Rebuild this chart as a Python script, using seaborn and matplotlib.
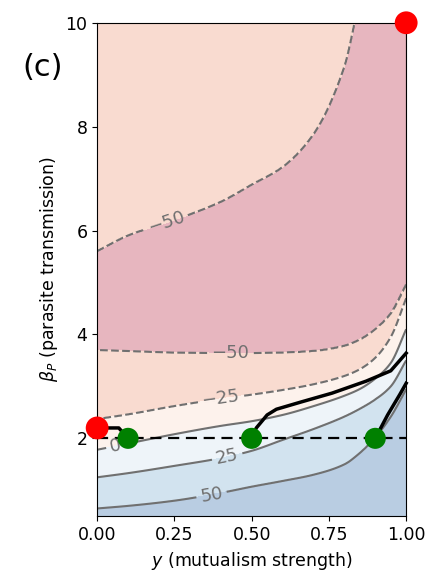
import numpy as np
import pandas as pd
import matplotlib
matplotlib.use("Agg")
import matplotlib.pyplot as plt
from matplotlib.colors import ListedColormap, BoundaryNorm
import seaborn as sns

# Mutualism strength knots at which each contour level was traced
y_knots = [0.0, 0.1, 0.25, 0.4, 0.5, 0.6, 0.7, 0.8, 0.85, 0.9, 0.95, 1.0]

# Parasite transmission (beta_P) of each contour level along y_knots
beta_p50 = [0.65, 0.70, 0.80, 0.95, 1.07, 1.18, 1.30, 1.50, 1.72, 2.02, 2.42, 2.95]
beta_p25 = [1.25, 1.33, 1.47, 1.62, 1.76, 1.97, 2.18, 2.42, 2.57, 2.75, 3.00, 3.50]
beta_0 = [1.78, 1.90, 2.08, 2.24, 2.33, 2.45, 2.62, 2.82, 2.95, 3.15, 3.45, 4.10]
beta_m25 = [2.37, 2.46, 2.62, 2.76, 2.84, 2.93, 3.04, 3.20, 3.33, 3.55, 3.95, 4.70]
beta_m50_low = [3.70, 3.68, 3.65, 3.64, 3.64, 3.65, 3.68, 3.78, 3.90, 4.10, 4.40, 4.95]
beta_m50_up = [5.60, 5.90, 6.20, 6.55, 6.88, 7.22, 7.85, 9.15, 10.4, 11.2, 12.0, 13.0]

levels = [-50, -25, 0, 25, 50]
fill_colors = ["#e7b6bf", "#f9dbd0", "#fdf2ec", "#eef4f9", "#d2e3ef", "#b9cde2"]

# Boundary curves of the coexistence regions
curve_a_y = [0.0, 0.07, 0.1]
curve_a_b = [2.2, 2.2, 2.0]
curve_b_y = [0.5, 0.515, 0.55, 0.58, 0.66, 0.76, 0.87, 0.95, 1.0]
curve_b_b = [2.0, 2.2, 2.45, 2.56, 2.7, 2.87, 3.1, 3.3, 3.64]
curve_c_y = [0.9, 0.94, 0.98, 1.0]
curve_c_b = [2.0, 2.45, 2.85, 3.06]
curve_d_y = [1.0, 1.0]
curve_d_b = [3.06, 10.0]

threshold_beta = 2.0
red_y = [0.0, 1.0]
red_b = [2.2, 10.0]
green_y = [0.1, 0.5, 0.9]
green_b = [2.0, 2.0, 2.0]


def pchip(x, xk, yk):
    """Shape-preserving piecewise cubic through (xk, yk)."""
    xk = np.asarray(xk, float)
    yk = np.asarray(yk, float)
    h = np.diff(xk)
    d = np.diff(yk) / h
    m = np.zeros_like(yk)
    for i in range(1, len(xk) - 1):
        if d[i - 1] * d[i] > 0:
            w1 = 2 * h[i] + h[i - 1]
            w2 = h[i] + 2 * h[i - 1]
            m[i] = (w1 + w2) / (w1 / d[i - 1] + w2 / d[i])
    m[0] = d[0]
    m[-1] = d[-1]
    x = np.atleast_1d(np.asarray(x, float))
    idx = np.clip(np.searchsorted(xk, x) - 1, 0, len(xk) - 2)
    t = (x - xk[idx]) / h[idx]
    h00 = 2 * t**3 - 3 * t**2 + 1
    h10 = t**3 - 2 * t**2 + t
    h01 = -2 * t**3 + 3 * t**2
    h11 = t**3 - t**2
    return (h00 * yk[idx] + h10 * h[idx] * m[idx]
            + h01 * yk[idx + 1] + h11 * h[idx] * m[idx + 1])


# Build the gridded field from the traced level curves
ys = np.linspace(0, 1, 401)
bs = np.linspace(0.5, 10, 800)
c50 = pchip(ys, y_knots, beta_p50)
c25 = pchip(ys, y_knots, beta_p25)
c0 = pchip(ys, y_knots, beta_0)
cm25 = pchip(ys, y_knots, beta_m25)
clo = pchip(ys, y_knots, beta_m50_low)
cup = pchip(ys, y_knots, beta_m50_up)
Z = np.empty((bs.size, ys.size))
for j in range(ys.size):
    xp = [0.0, c50[j], c25[j], c0[j], cm25[j], clo[j],
          0.5 * (clo[j] + cup[j]), cup[j], 15.0]
    fp = [75, 50, 25, 0, -25, -50, -65, -50, -40]
    Z[:, j] = np.interp(bs, xp, fp)

fig = plt.figure(figsize=(4.28, 5.84), dpi=100)
ax = fig.add_axes([0.227, 0.116, 0.722, 0.845])

cmap = ListedColormap(fill_colors)
bounds = [-1000] + levels + [1000]
norm = BoundaryNorm(bounds, cmap.N)
ax.contourf(ys, bs, Z, levels=bounds, cmap=cmap, norm=norm)
cs = ax.contour(ys, bs, Z, levels=levels, colors="#707070", linewidths=1.5,
                linestyles=["--", "--", "-", "-", "-"])
cs.set_dashes = None
ax.clabel(cs, fmt=lambda v: f"{int(v)}".replace("-", "\u2212"), fontsize=13,
          inline=True, inline_spacing=4,
          manual=[(0.22, 6.25), (0.43, 3.65), (0.40, 2.76), (0.06, 1.84),
                  (0.42, 1.67), (0.37, 0.92)])

ax.axhline(threshold_beta, color="black", linestyle="--", linewidth=1.6, dashes=(5, 3))

for cy, cb in [(curve_a_y, curve_a_b), (curve_b_y, curve_b_b),
               (curve_c_y, curve_c_b), (curve_d_y, curve_d_b)]:
    df = pd.DataFrame({"y": cy, "b": cb})
    sns.lineplot(data=df, x="y", y="b", sort=False, color="black",
                 linewidth=2.5, ax=ax, clip_on=False)

sns.scatterplot(x=green_y, y=green_b, color="green", s=230, edgecolor="none",
                ax=ax, zorder=5, clip_on=False)
sns.scatterplot(x=red_y, y=red_b, color="red", s=270, edgecolor="none",
                ax=ax, zorder=5, clip_on=False)

ax.set_xlim(0, 1)
ax.set_ylim(0.5, 10)
ax.set_xticks([0, 0.25, 0.5, 0.75, 1.0])
ax.set_xticklabels(["0.00", "0.25", "0.50", "0.75", "1.00"])
ax.set_yticks([2, 4, 6, 8, 10])
ax.tick_params(labelsize=12.5)
ax.set_xlabel(r"$y$ (mutualism strength)", fontsize=12.5)
ax.set_ylabel(r"$\beta_P$ (parasite transmission)", fontsize=12.5)
fig.text(0.052, 0.885, "(c)", fontsize=22, va="center", ha="left")

fig.savefig("out.png", dpi=100)
